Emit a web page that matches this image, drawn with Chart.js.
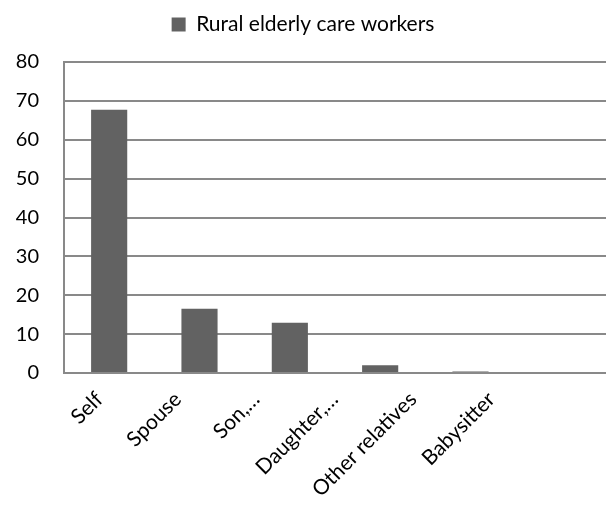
<!DOCTYPE html>
<html>
<head>
<meta charset="utf-8">
<script src="https://cdn.jsdelivr.net/npm/chart.js@4"></script>
<style>
	body { margin: 0; background: #fff; }
	#wrap { width: 606px; height: 525px; }
</style>
</head>
<body>
<div id="wrap"><canvas id="chart-canvas"></canvas></div>
<script>
// who provides care, share of respondents
const categories = ['Self', 'Spouse', 'Son,…', 'Daughter,…', 'Other relatives', 'Babysitter']
const care_values = [67.7, 16.5, 12.9, 2.0, 0.4, 0]
const series_name = 'Rural elderly care workers'
const y_ticks = [0, 10, 20, 30, 40, 50, 60, 70, 80]

const font_family = 'Lato, "Open Sans", sans-serif'
const grid_colour = '#898989'

Chart.defaults.font.family = font_family
Chart.defaults.color = '#000'

// extra room under the legend
const legend_spacing = {
	id: 'legend_spacing',
	beforeInit(chart) {
		let fit = chart.legend.fit
		chart.legend.fit = function () {
			fit.call(this)
			this.height += 17
		}
	}
}

let canvas = document.getElementById('chart-canvas')

new Chart(canvas, {
	type: 'bar',
	data: {
		labels: categories,
		datasets: [{
			label: series_name,
			data: care_values,
			backgroundColor: '#626262',
			borderWidth: 0,
			categoryPercentage: 1,
			barPercentage: 0.4
		}]
	},
	plugins: [legend_spacing],
	options: {
		responsive: true,
		maintainAspectRatio: false,
		animation: false,
		plugins: {
			legend: {
				display: true,
				labels: {
					boxWidth: 14,
					boxHeight: 14,
					padding: 14,
					font: { size: 21 },
					color: '#000'
				}
			},
			tooltip: { enabled: false }
		},
		scales: {
			x: {
				grid: { display: false, drawTicks: false },
				border: { display: true, color: grid_colour, width: 2 },
				ticks: { display: false },
				afterFit: (scale) => { scale.height = 0 }
			},
			// label axis: category names sit a little tighter than the bars
			x_labels: {
				type: 'linear',
				position: 'bottom',
				bounds: 'data',
				offset: false,
				min: -0.45,
				max: 6.46,
				afterBuildTicks: (scale) => {
					scale.ticks = categories.map((c, i) => ({ value: i }))
				},
				grid: { display: false, drawTicks: false, offset: false },
				border: { display: false },
				ticks: {
					font: { size: 21 },
					color: '#000',
					maxRotation: 45,
					minRotation: 45,
					autoSkip: false,
					padding: 14,
					callback: (value) => categories[value]
				},
				afterFit: (scale) => { scale.height = 152 }
			},
			y: {
				min: 0,
				max: 80,
				afterBuildTicks: (scale) => {
					scale.ticks = y_ticks.map(v => ({ value: v }))
				},
				grid: { color: grid_colour, lineWidth: 2, drawTicks: false },
				border: { display: true, color: grid_colour, width: 2 },
				ticks: {
					font: { size: 20 },
					color: '#000',
					padding: 25
				},
				afterFit: (scale) => { scale.width = 64 }
			}
		}
	}
})
</script>
</body>
</html>
